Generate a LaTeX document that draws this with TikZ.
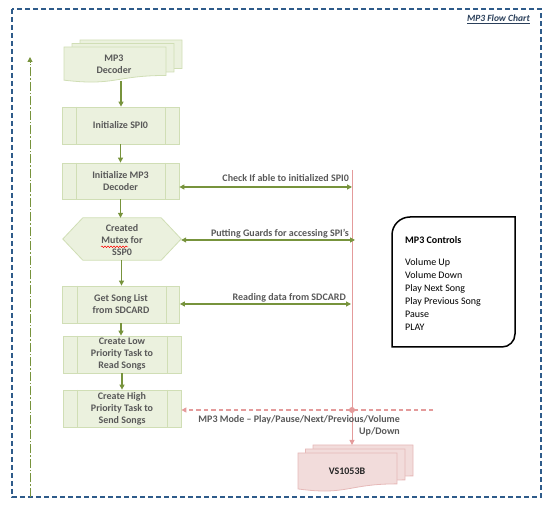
\documentclass[tikz,border=0pt]{standalone}
\usepackage{fontspec}
\setmainfont{Carlito}
\usetikzlibrary{arrows.meta,decorations.pathmorphing}
\definecolor{gfill}{HTML}{EBF1DE}
\definecolor{gline}{HTML}{D0DEB5}
\definecolor{garrow}{HTML}{77933C}
\definecolor{tgray}{HTML}{595959}
\definecolor{pline}{HTML}{E49B9B}
\definecolor{pfill}{HTML}{F2DCDB}
\definecolor{pdraw}{HTML}{E6B9B8}
\definecolor{fblue}{HTML}{2E5B8A}
\definecolor{tblue}{HTML}{2A3F5A}
\newcommand\lblfont{\fontsize{10}{12}\selectfont\bfseries}
\newcommand\docshape[5]{%
  \filldraw[#1] (#2,#3) -- (#4,#3) -- (#4,{#3+0.802*#5})
    .. controls ({(#2+#4)/2},{#3+0.802*#5}) and ({(#2+#4)/2},{#3+1.107*#5}) .. (#2,{#3+0.934*#5}) -- cycle;}
\newcommand\pplines[1]{%
  \draw[gline, line width=0.8pt] ([xshift=15pt]#1.north west) -- ([xshift=15pt]#1.south west)
    ([xshift=-14pt]#1.north east) -- ([xshift=-14pt]#1.south east);}
\tikzset{
  procbox/.style={draw=gline, fill=gfill, line width=0.8pt, minimum width=117pt,
    minimum height=37pt, align=center, font=\lblfont, text=tgray, inner sep=0pt},
  gdoc/.style={draw=gline, fill=gfill, line width=0.8pt},
  pdoc/.style={draw=pdraw, fill=pfill, line width=0.8pt},
  flow/.style={draw=garrow, line width=1.1pt, -{Triangle[length=5pt,width=5pt]}},
  both/.style={draw=garrow, line width=1.1pt, {Triangle[length=5pt,width=5pt]}-{Triangle[length=5pt,width=5pt]}},
  lbl/.style={font=\lblfont, text=tgray, inner sep=0pt},
}
\begin{document}
\begin{tikzpicture}[x=1pt,y=-1pt]
\useasboundingbox (0,0) rectangle (552,510);
% frame
\draw[fblue, line width=1.8pt, dash pattern=on 5pt off 3pt] (12,9) rectangle (541,497);
\node[anchor=base east, inner sep=0pt, font=\fontsize{9.5}{11}\selectfont\bfseries\itshape, text=tblue] (title) at (530,22) {\underline{MP3 Flow Chart}};
% left dashed arrow
\coordinate (lbot) at (30,497);
\coordinate (ltop) at (30,57);
\draw[garrow, line width=1pt, dash pattern=on 9pt off 2pt on 1.5pt off 2pt, -{Triangle[length=5pt,width=5pt]}] (lbot) -- (ltop);
% MP3 decoder multidocument
\docshape{gdoc}{80}{40}{182}{35.5}
\docshape{gdoc}{72}{43.5}{174}{35.5}
\docshape{gdoc}{64}{47}{166}{35.5}
\node[lbl, align=center] (dec) at (114,64.5) {MP3\\Decoder};
\coordinate (decb) at (121,81);
% process boxes
\node[procbox] (spi) at (120.5,125.5) {Initialize SPI0};
\pplines{spi}
\node[procbox, minimum height=36pt] (initmp3) at (120.5,181) {Initialize MP3\\Decoder};
\pplines{initmp3}
% mutex hexagon
\node[minimum width=118pt, minimum height=42pt, inner sep=0pt] (mutex) at (122,239) {};
\filldraw[gdoc] (mutex.west) -- ([xshift=20pt]mutex.north west) -- ([xshift=-20pt]mutex.north east)
  -- (mutex.east) -- ([xshift=-20pt]mutex.south east) -- ([xshift=20pt]mutex.south west) -- cycle;
\node[lbl, align=center] (mutextxt) at (122,240) {Created\\Mutex for\\SSP0};
\draw[red, line width=0.5pt, decorate, decoration={snake, amplitude=0.8pt, segment length=3pt}] (101,246.8) -- (128,246.8);
\node[procbox] (getsong) at (121,304.5) {Get Song List\\from SDCARD};
\pplines{getsong}
\node[procbox, minimum width=118pt, minimum height=37pt] (low) at (122,354.5) {Create Low\\Priority Task to\\Read Songs};
\pplines{low}
\node[procbox, minimum width=118pt] (high) at (122,408.5) {Create High\\Priority Task to\\Send Songs};
\pplines{high}
% vertical flow arrows
\draw[flow] (decb) -- (decb |- spi.north);
\draw[flow] (spi.south) -- (spi.south |- initmp3.north);
\draw[flow] (initmp3.south) -- (initmp3.south |- mutex.north);
\draw[flow] ([xshift=-0.5pt]mutex.south) -- ([xshift=-0.5pt]mutex.south |- getsong.north);
\draw[flow] (getsong.south) -- (getsong.south |- low.north);
\draw[flow] (low.south) -- (low.south |- high.north);
% VS1053B multidocument
\docshape{pdoc}{313}{445}{413}{38.5}
\docshape{pdoc}{305.5}{449}{405}{38.5}
\docshape{pdoc}{298}{453}{397}{38.5}
\node[font=\lblfont, text=black!85, inner sep=0pt] (vs) at (347,471) {VS1053B};
\coordinate (vstop) at (352,445);
% pink vertical line
\coordinate (ptop) at (352,170);
\draw[pline, line width=1pt, -{Triangle[length=5pt,width=5pt]}] (ptop) -- (vstop);
% green horizontal arrows
\coordinate (r1) at (352,187);
\coordinate (r2) at (355,240);
\coordinate (r3) at (351,304);
\draw[both] (r1 -| initmp3.east) -- (r1);
\draw[both] (r2 -| mutex.east) -- (r2);
\draw[both] (r3 -| getsong.east) -- (r3);
\node[lbl, anchor=base east] (l1) at (349,181.5) {Check If able to initialized SPI0};
\node[lbl, anchor=base east] (l2) at (349,236.5) {Putting Guards for accessing SPI’s};
\node[lbl, anchor=base east] (l3) at (346,300.5) {Reading data from SDCARD};
% pink dashed mode line
\coordinate (pr) at (433,410);
\coordinate (dot) at (352,410);
\draw[pline, line width=1.3pt, dash pattern=on 4.5pt off 3pt, -{Triangle[length=5pt,width=5pt]}] (pr) -- (pr -| high.east);
\fill[pline] (dot) circle (3pt);
\node[lbl, anchor=north east, align=right] (l4) at (400,415.5) {MP3 Mode – Play/Pause/Next/Previous/Volume\\Up/Down};
% MP3 Controls box
\draw[black, line width=1.5pt] (392,347) -- (392,235) .. controls (392,225.06) and (400.06,217) .. (410,217)
  -- (515,217) -- (515,334) .. controls (515,341.2) and (509.2,347) .. (502,347) -- cycle;
\node[anchor=north west, align=left, inner sep=0pt, font=\fontsize{10}{13}\selectfont, text=black] (controls) at (405,236)
  {\textbf{MP3 Controls}\\\rule{0pt}{21pt}Volume Up\\Volume Down\\Play Next Song\\Play Previous Song\\Pause\\PLAY};
\end{tikzpicture}
\end{document}
